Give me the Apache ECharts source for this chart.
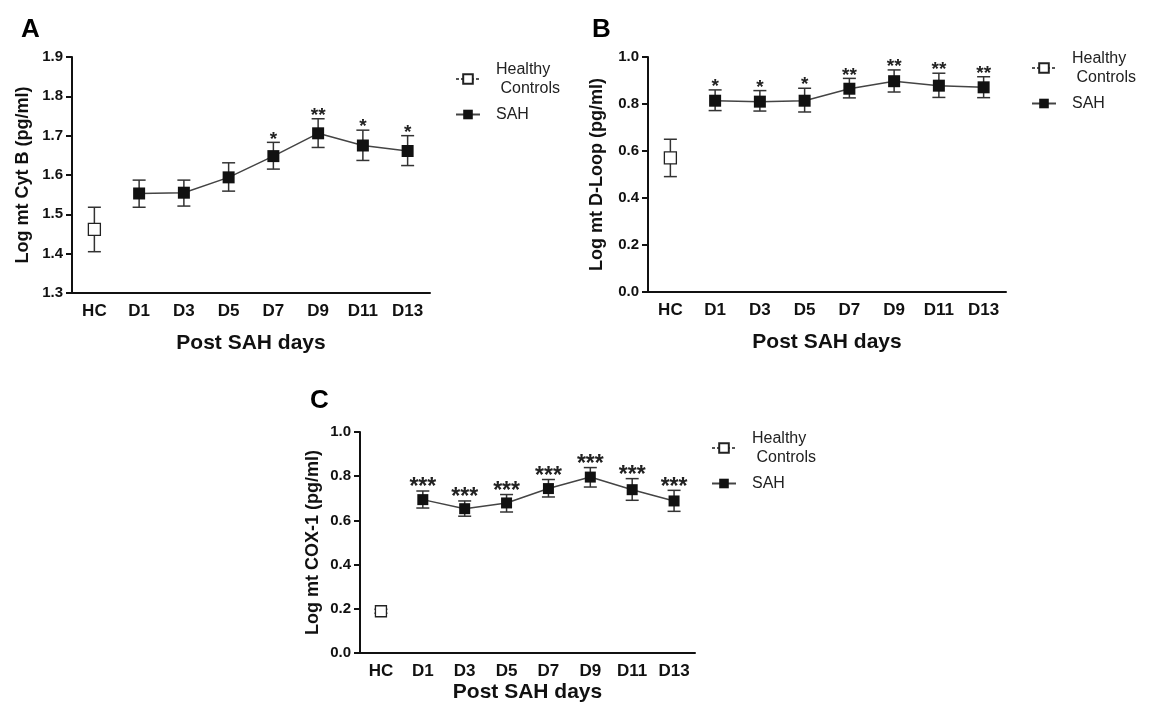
<!DOCTYPE html>
<html>
<head>
<meta charset="utf-8">
<script src="https://cdn.jsdelivr.net/npm/echarts@6/dist/echarts.min.js"></script>
<style>
html,body{margin:0;padding:0;background:#fff;}
#chart{width:1149px;height:708px;}
</style>
</head>
<body>
<div id="chart"></div>
<script>
// ---------- data ----------
const categories = ['HC', 'D1', 'D3', 'D5', 'D7', 'D9', 'D11', 'D13'];

const cytbMean = [1.462, 1.553, 1.555, 1.594, 1.648, 1.706, 1.675, 1.661];
const cytbLow  = [1.405, 1.518, 1.521, 1.559, 1.615, 1.670, 1.637, 1.624];
const cytbHigh = [1.518, 1.587, 1.587, 1.631, 1.683, 1.743, 1.714, 1.700];
const cytbStars = ['', '', '', '', '*', '**', '*', '*'];

const dloopMean = [0.571, 0.814, 0.810, 0.814, 0.865, 0.897, 0.878, 0.871];
const dloopLow  = [0.491, 0.772, 0.770, 0.766, 0.826, 0.851, 0.828, 0.827];
const dloopHigh = [0.650, 0.860, 0.857, 0.867, 0.909, 0.945, 0.931, 0.916];
const dloopStars = ['', '*', '*', '*', '**', '**', '**', '**'];

const cox1Mean = [0.189, 0.694, 0.653, 0.679, 0.744, 0.796, 0.739, 0.688];
const cox1Low  = [0.180, 0.656, 0.619, 0.638, 0.706, 0.751, 0.691, 0.641];
const cox1High = [0.198, 0.733, 0.688, 0.717, 0.785, 0.839, 0.789, 0.736];
const cox1Stars = ['', '***', '***', '***', '***', '***', '***', '***'];

const panelLetters = ['A', 'B', 'C'];
const yTitles = ['Log mt Cyt B (pg/ml)', 'Log mt D-Loop (pg/ml)', 'Log mt COX-1 (pg/ml)'];
const xTitle = 'Post SAH days';
const seriesNames = ['Healthy Controls', 'SAH'];

// ---------- layout / style ----------
const FONT = '"Liberation Sans", Arial, sans-serif';
const panels = [
  {mean: cytbMean, low: cytbLow, high: cytbHigh, stars: cytbStars, min: 1.3, max: 1.9, interval: 0.1,
   grid: {left: 72, top: 57, width: 358, height: 236}, nameGapY: 40, nameGapX: 40, sym: 12, starFont: 19,
   legend: {left: 450, top: 55}, title: {left: 16, top: 12}},
  {mean: dloopMean, low: dloopLow, high: dloopHigh, stars: dloopStars, min: 0, max: 1.0, interval: 0.2,
   grid: {left: 648, top: 57, width: 358, height: 235}, nameGapY: 42, nameGapX: 40, sym: 12, starFont: 19,
   legend: {left: 1026, top: 44}, title: {left: 587, top: 12}},
  {mean: cox1Mean, low: cox1Low, high: cox1High, stars: cox1Stars, min: 0, max: 1.0, interval: 0.2,
   grid: {left: 360, top: 432, width: 335, height: 221}, nameGapY: 38, nameGapX: 29, sym: 11, starFont: 23,
   legend: {left: 706, top: 424}, title: {left: 305, top: 383}}
];

const option = {
  backgroundColor: '#fff',
  animation: false,
  title: [], grid: [], xAxis: [], yAxis: [], legend: [], series: []
};

panels.forEach((p, i) => {
  option.title.push({
    text: panelLetters[i], left: p.title.left, top: p.title.top,
    textStyle: {fontFamily: FONT, fontWeight: 'bold', fontSize: 26, color: '#000'}
  });
  option.grid.push(Object.assign({containLabel: false}, p.grid));
  option.xAxis.push({
    type: 'category', gridIndex: i, data: categories, boundaryGap: true,
    name: xTitle, nameLocation: 'middle', nameGap: p.nameGapX,
    nameTextStyle: {fontFamily: FONT, fontWeight: 'bold', fontSize: 21, color: '#111'},
    axisLine: {lineStyle: {color: '#111', width: 2}},
    axisTick: {alignWithLabel: true, length: 6, lineStyle: {color: '#111', width: 2}},
    axisLabel: {fontFamily: FONT, fontWeight: 'bold', fontSize: 17, color: '#111', margin: 10, interval: 0},
    splitLine: {show: false}
  });
  option.yAxis.push({
    type: 'value', gridIndex: i, min: p.min, max: p.max, interval: p.interval,
    name: yTitles[i], nameLocation: 'middle', nameGap: p.nameGapY, nameRotate: 90,
    nameTextStyle: {fontFamily: FONT, fontWeight: 'bold', fontSize: 18, color: '#111'},
    axisLine: {show: true, lineStyle: {color: '#111', width: 2}},
    axisTick: {show: true, length: 6, lineStyle: {color: '#111', width: 2}},
    axisLabel: {fontFamily: FONT, fontWeight: 'bold', fontSize: 15, color: '#111', margin: 9,
      formatter: v => v.toFixed(1)},
    splitLine: {show: false}
  });
  option.legend.push({
    data: seriesNames, orient: 'vertical', left: p.legend.left, top: p.legend.top,
    itemWidth: 24, itemHeight: 12, itemGap: 7, selectedMode: false,
    formatter: n => n === 'Healthy Controls' ? 'Healthy\n Controls' : n,
    textStyle: {fontFamily: FONT, fontSize: 16, color: '#222', lineHeight: 19, padding: [0, 0, 0, 11]}
  });

  const errData = categories.map((c, k) => [k, p.low[k], p.high[k]]);
  option.series.push({
    type: 'custom', name: 'err' + i, xAxisIndex: i, yAxisIndex: i, z: 1,
    data: errData, encode: {x: 0, y: [1, 2]},
    renderItem: (params, api) => {
      const x = api.value(0);
      const lo = api.coord([x, api.value(1)]);
      const hi = api.coord([x, api.value(2)]);
      const hw = 6.5;
      const st = {stroke: '#333', lineWidth: 1.5, fill: null};
      return {type: 'group', children: [
        {type: 'line', shape: {x1: lo[0], y1: lo[1], x2: hi[0], y2: hi[1]}, style: st},
        {type: 'line', shape: {x1: lo[0] - hw, y1: lo[1], x2: lo[0] + hw, y2: lo[1]}, style: st},
        {type: 'line', shape: {x1: hi[0] - hw, y1: hi[1], x2: hi[0] + hw, y2: hi[1]}, style: st}
      ]};
    }
  });

  option.series.push({
    type: 'line', name: seriesNames[0], xAxisIndex: i, yAxisIndex: i, z: 3,
    data: p.mean.map((v, k) => k === 0 ? v : '-'),
    symbol: 'rect', symbolSize: p.sym, showSymbol: true,
    lineStyle: {type: [3, 2], color: '#555', width: 1},
    itemStyle: {color: '#fff', borderColor: '#222', borderWidth: 1.3}
  });
  option.series.push({
    type: 'line', name: seriesNames[1], xAxisIndex: i, yAxisIndex: i, z: 3,
    data: p.mean.map((v, k) => k === 0 ? '-' : v),
    symbol: 'rect', symbolSize: p.sym, showSymbol: true,
    lineStyle: {color: '#444', width: 1.5},
    itemStyle: {color: '#111', borderColor: '#111', borderWidth: 0}
  });

  const starData = categories.map((c, k) => [k, p.high[k], p.stars[k]]);
  option.series.push({
    type: 'custom', name: 'stars' + i, xAxisIndex: i, yAxisIndex: i, z: 4,
    data: starData, encode: {x: 0, y: 1},
    renderItem: (params, api) => {
      const k = api.value(0);
      const txt = starData[params.dataIndex][2];
      if (!txt) return null;
      const pt = api.coord([k, api.value(1)]);
      return {type: 'text', style: {text: txt, x: pt[0], y: pt[1] - 3, align: 'center',
        verticalAlign: 'middle', font: 'bold ' + p.starFont + 'px ' + FONT, fill: '#222'}};
    }
  });
});

const chart = echarts.init(document.getElementById('chart'), null, {renderer: 'canvas'});
chart.setOption(option);
</script>
</body>
</html>
